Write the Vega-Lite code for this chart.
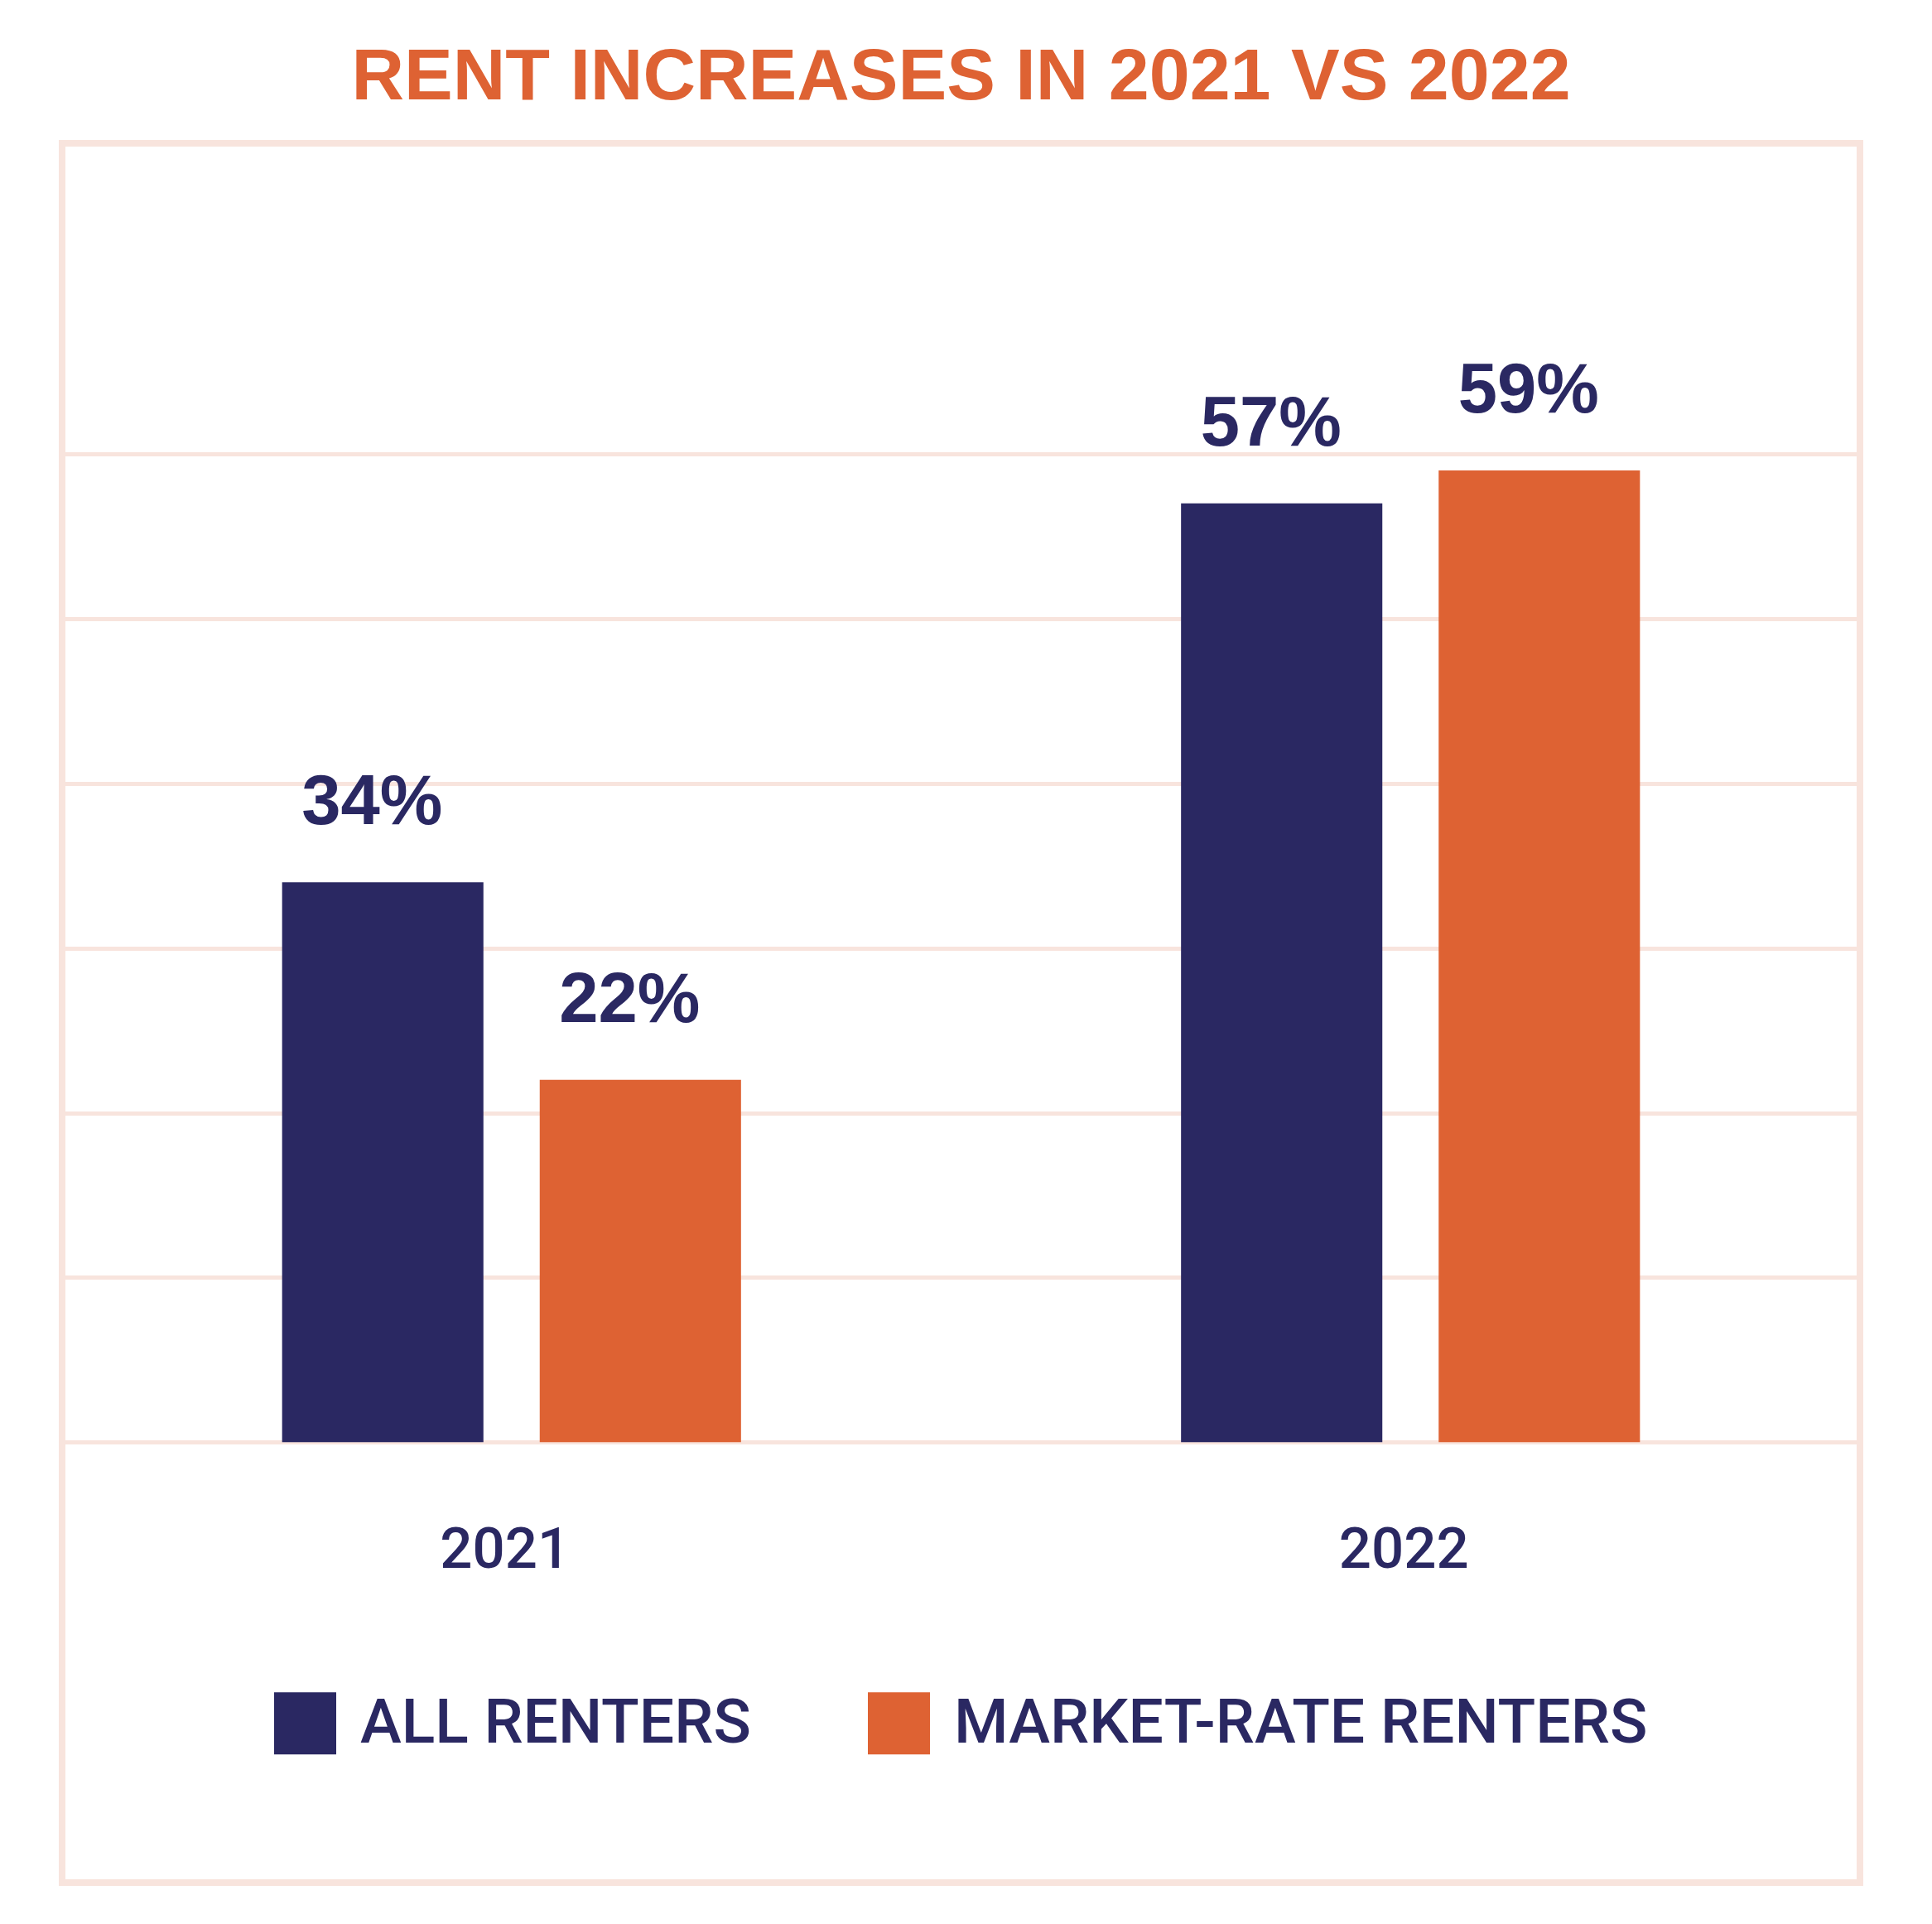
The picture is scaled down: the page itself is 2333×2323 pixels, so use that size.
{
  "$schema": "https://vega.github.io/schema/vega-lite/v6.json",
  "autosize": {"type": "none"},
  "padding": {"left": 75, "top": 173, "right": 87, "bottom": 50},
  "width": 2171,
  "height": 2100,
  "background": "white",
  "title": {
    "text": "RENT INCREASES IN 2021 VS 2022",
    "font": "Liberation Sans",
    "fontSize": 88,
    "fontWeight": "bold",
    "color": "#DE6233",
    "anchor": "middle",
    "baseline": "alphabetic",
    "offset": -35
  },
  "data": {
    "values": [
      {"year": "2021", "group": "ALL RENTERS", "value": 0.34},
      {"year": "2021", "group": "MARKET-RATE RENTERS", "value": 0.22},
      {"year": "2022", "group": "ALL RENTERS", "value": 0.57},
      {"year": "2022", "group": "MARKET-RATE RENTERS", "value": 0.59}
    ]
  },
  "encoding": {
    "x": {
      "field": "year",
      "type": "nominal",
      "scale": {"paddingInner": 0, "paddingOuter": 0},
      "axis": {
        "title": null,
        "orient": "bottom",
        "offset": -531.5,
        "domain": false,
        "ticks": false,
        "tickSize": 0,
        "labelAngle": 0,
        "labelOffset": -8,
        "labelFont": "Roboto",
        "labelFontWeight": 500,
        "labelFontSize": 69,
        "labelColor": "#2A2862",
        "labelBaseline": "alphabetic",
        "labelPadding": 151
      }
    },
    "xOffset": {
      "field": "group",
      "type": "nominal",
      "sort": ["ALL RENTERS", "MARKET-RATE RENTERS"],
      "scale": {"paddingInner": 0.2186, "paddingOuter": 0.854}
    },
    "y": {
      "field": "value",
      "type": "quantitative",
      "scale": {"domain": [-0.2674, 0.7887], "nice": false, "zero": false},
      "axis": {
        "title": null,
        "values": [0, 0.1, 0.2, 0.3, 0.4, 0.5, 0.6],
        "labels": false,
        "ticks": false,
        "domain": false,
        "grid": true,
        "gridColor": "#F8E4DD",
        "gridWidth": 5,
        "gridOpacity": 1
      }
    }
  },
  "layer": [
    {
      "mark": {"type": "bar", "strokeWidth": 0},
      "encoding": {
        "color": {
          "field": "group",
          "type": "nominal",
          "scale": {
            "domain": ["ALL RENTERS", "MARKET-RATE RENTERS"],
            "range": ["#2A2862", "#DE6233"]
          },
          "legend": {
            "title": null,
            "orient": "none",
            "legendX": 256,
            "legendY": 1870,
            "direction": "horizontal",
            "symbolType": "square",
            "symbolSize": 5625,
            "symbolStrokeWidth": 0,
            "symbolOpacity": 1,
            "labelFont": "Roboto",
            "labelFontWeight": 500,
            "labelFontSize": 75,
            "labelColor": "#2A2862",
            "labelOffset": 29,
            "labelLimit": 1000,
            "columnPadding": 141
          }
        }
      }
    },
    {
      "mark": {
        "type": "text",
        "font": "Liberation Sans",
        "fontWeight": "bold",
        "fontSize": 85,
        "color": "#2A2862",
        "baseline": "alphabetic",
        "align": "center",
        "dy": -70,
        "dx": -13
      },
      "encoding": {
        "text": {"field": "value", "type": "quantitative", "format": ".0%"},
        "detail": {"field": "group"}
      }
    }
  ],
  "config": {
    "view": {"stroke": "#F8E4DD", "strokeWidth": 8}
  }
}
